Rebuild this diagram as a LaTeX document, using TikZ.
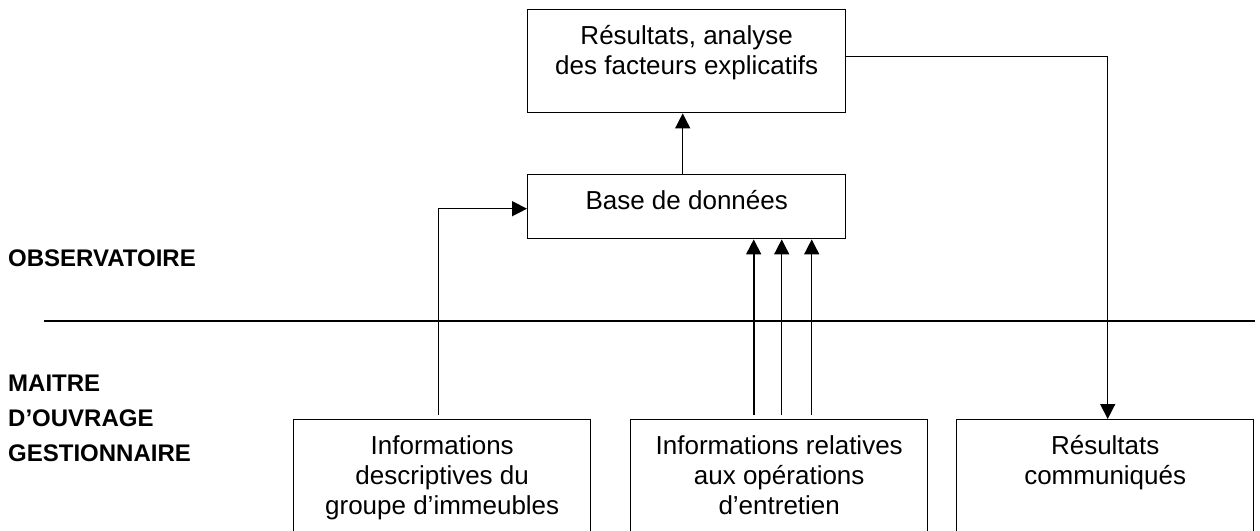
\documentclass[tikz,border=0pt]{standalone}
\usepackage{fontspec}
\setmainfont{Liberation Sans}
\usetikzlibrary{arrows.meta,calc}
\newcommand\bxtext[3]{\parbox[c][#1][t]{#2}{\centering\vspace*{14pt}\strut #3}}
\begin{document}
\begin{tikzpicture}[x=1pt,y=-1pt,
  box/.style={draw, line width=1.4pt, inner sep=0pt, anchor=north west, font=\fontsize{26}{30}\selectfont},
  lab/.style={anchor=base west, inner sep=0pt, font=\fontsize{24}{28}\selectfont\bfseries},
  conn/.style={line width=1.4pt},
  arr/.style={conn, -{Triangle[length=15pt,width=15pt]}}]
\useasboundingbox (0,0) rectangle (1260,530);
\clip (0,0) rectangle (1260,530);
% boxes
\node[box] (res) at (527,9) {\bxtext{103pt}{318pt}{Résultats, analyse\\des facteurs explicatifs}};
\node[box] (base) at (527,174) {\bxtext{64pt}{318pt}{Base de données}};
\node[box] (r1) at (293,419) {\bxtext{130pt}{297pt}{Informations\\descriptives du\\groupe d’immeubles}};
\node[box] (r2) at (630,419) {\bxtext{130pt}{297pt}{Informations relatives\\aux opérations\\d’entretien}};
\node[box] (r3) at (956,419) {\bxtext{130pt}{297pt}{Résultats\\communiqués}};
% labels
\node[lab] (obs) at (8,266.5) {OBSERVATOIRE};
\node[lab] (m1) at (8,391.5) {MAITRE};
\node[lab] (m2) at (8,426.5) {D’OUVRAGE};
\node[lab] (m3) at (8,461.5) {GESTIONNAIRE};
% separator
\coordinate (sepL) at (44,321);
\coordinate (sepR) at (1255,321);
\draw[conn] (sepL) -- (sepR);
% connectors
\draw[arr] ([xshift=-4pt]base.north) -- ([xshift=-4pt]res.south);
\draw[arr] ([yshift=4.5pt]res.east) -| ([xshift=2.5pt]r3.north);
\draw[arr] ([xshift=-3.5pt,yshift=4pt]r1.north) |- ([yshift=-2pt]base.west);
\path ([xshift=-25.5pt,yshift=4pt]r2.north) coordinate (s1);
\path ([xshift=2.5pt,yshift=4pt]r2.north) coordinate (s2);
\path ([xshift=32.5pt,yshift=4pt]r2.north) coordinate (s3);
\draw[arr, line width=1.8pt] (s1) -- (s1 |- base.south);
\draw[arr] (s2) -- (s2 |- base.south);
\draw[arr] (s3) -- (s3 |- base.south);
\end{tikzpicture}
\end{document}
